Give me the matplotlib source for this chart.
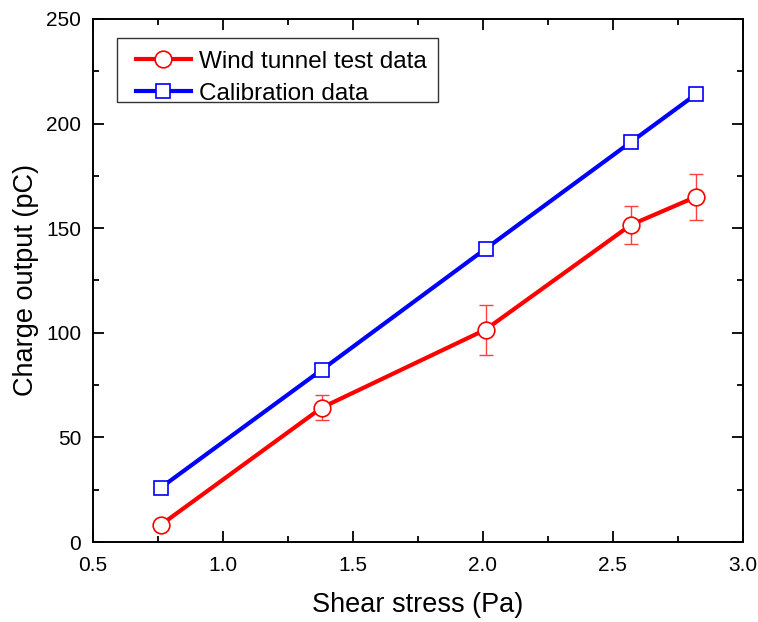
import numpy as np
import matplotlib
matplotlib.use("Agg")
import matplotlib.pyplot as plt
from matplotlib.patches import Rectangle
from matplotlib.ticker import MultipleLocator, FormatStrFormatter

plt.rcParams['font.family'] = ['Liberation Sans', 'DejaVu Sans']

# data
shear = [0.76, 1.38, 2.01, 2.57, 2.82]
wind_charge = [8.1, 64.2, 101.5, 151.6, 165.0]
wind_err = [2.0, 6.0, 12.0, 9.0, 11.0]
calib_charge = [25.9, 82.3, 140.1, 191.2, 214.0]

fig = plt.figure(figsize=(7.58, 6.22), dpi=100)
ax = fig.add_axes([0.1227, 0.1286, 0.8573, 0.841])

# error bars drawn apart so the legend keeps plain line+marker handles
ax.errorbar(shear, wind_charge, yerr=wind_err, fmt='none',
            ecolor='#ff4040', elinewidth=1.0, capsize=5, capthick=1.0, zorder=2)
ax.plot(shear, wind_charge, color='red', lw=3,
        marker='o', ms=12, mfc='white', mec='red', mew=1.2,
        label='Wind tunnel test data', zorder=3)
ax.plot(shear, calib_charge, color='blue', lw=3,
        marker='s', ms=10, mfc='white', mec='blue', mew=1.2,
        label='Calibration data', zorder=4)

ax.set_xlim(0.5, 3.0)
ax.set_ylim(0, 250)
ax.xaxis.set_major_locator(MultipleLocator(0.5))
ax.xaxis.set_minor_locator(MultipleLocator(0.25))
ax.yaxis.set_major_locator(MultipleLocator(50))
ax.yaxis.set_minor_locator(MultipleLocator(25))
ax.xaxis.set_major_formatter(FormatStrFormatter('%.1f'))

ax.tick_params(which='both', direction='in', top=True, right=True,
               labelsize=15, width=1.3)
ax.tick_params(which='major', length=8)
ax.tick_params(which='minor', length=4.5)
ax.tick_params(axis='x', which='major', pad=10)
ax.tick_params(axis='y', which='major', pad=8.5)
for s in ax.spines.values():
    s.set_linewidth(1.4)

ax.set_xlabel('Shear stress (Pa)', fontsize=19.5, labelpad=12)
ax.set_ylabel('Charge output (pC)', fontsize=19.5, labelpad=5)

# legend without its own frame; frame drawn as a box with wider left margin
leg = ax.legend(loc='upper left', bbox_to_anchor=(0.066, 0.9394), fontsize=17.5,
                frameon=False, handlelength=2.25, handletextpad=0.33,
                borderpad=0, labelspacing=0.42, borderaxespad=0)
ax.add_patch(Rectangle((0.037, 0.8413), 0.4939, 0.1224, transform=ax.transAxes,
                       fill=False, edgecolor='#333333', lw=1.0, zorder=5))

fig.savefig('out.png', dpi=100)
